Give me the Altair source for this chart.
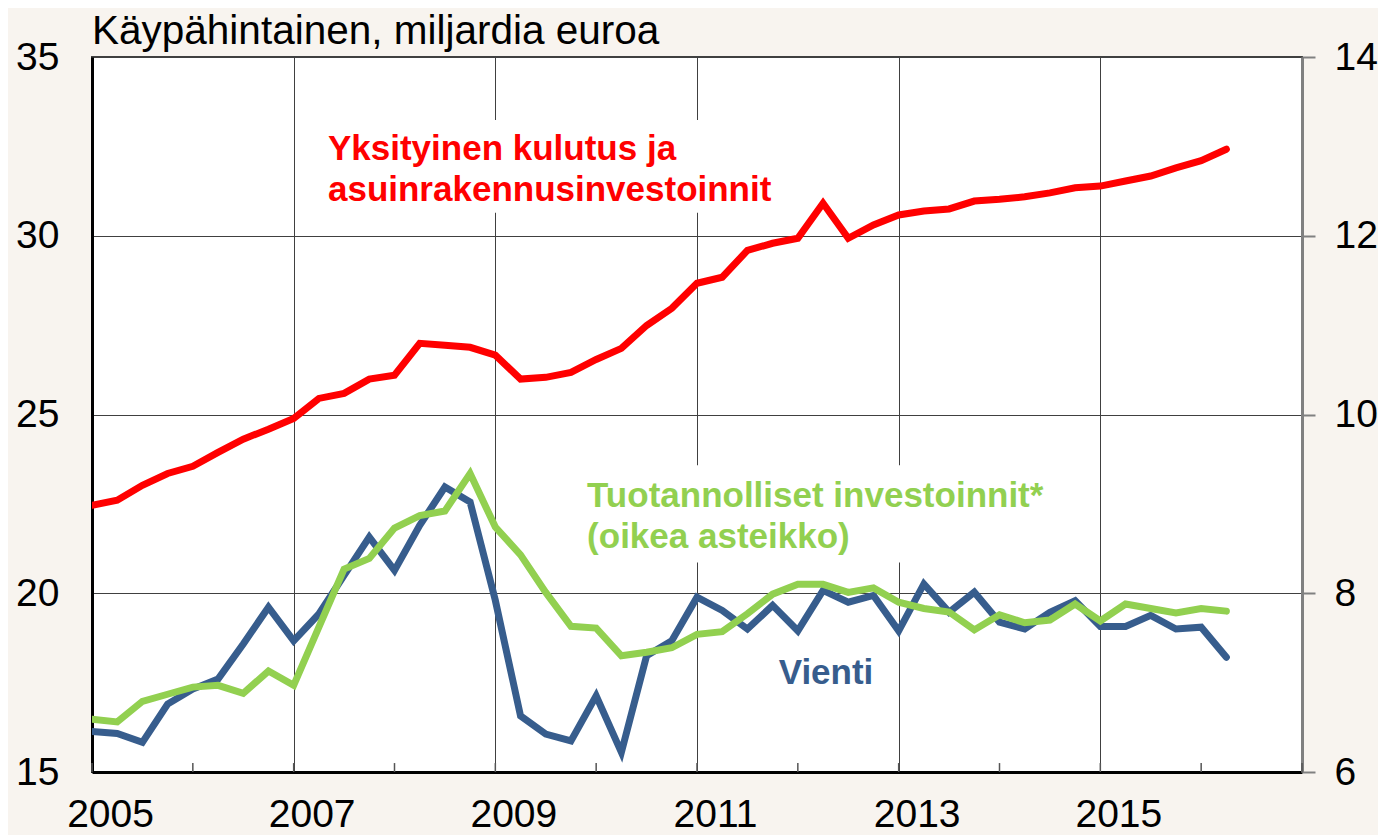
import altair as alt
import pandas as pd

FONT = "Liberation Sans"

# Quarterly observations 2005Q1 .. 2016Q2
quarters = [f"{y}Q{q}" for y in range(2005, 2017) for q in range(1, 5)][:46]

kulutus = [22.46, 22.60, 23.02, 23.35, 23.55, 23.94, 24.31, 24.59, 24.89, 25.45,
           25.59, 25.99, 26.10, 26.99, 26.94, 26.88, 26.66, 25.99, 26.04, 26.18,
           26.54, 26.85, 27.49, 27.97, 28.67, 28.84, 29.59, 29.79, 29.93, 30.91,
           29.93, 30.30, 30.58, 30.69, 30.75, 30.97, 31.02, 31.09, 31.20, 31.34,
           31.39, 31.53, 31.67, 31.90, 32.10, 32.42]

vienti = [16.13, 16.08, 15.83, 16.90, 17.32, 17.60, 18.58, 19.61, 18.67, 19.42,
          20.50, 21.57, 20.64, 21.90, 22.97, 22.55, 19.80, 16.57, 16.06, 15.87,
          17.13, 15.55, 18.25, 18.67, 19.89, 19.52, 19.00, 19.66, 18.95, 20.08,
          19.75, 19.94, 18.95, 20.26, 19.47, 20.03, 19.19, 19.00, 19.47, 19.79,
          19.07, 19.07, 19.38, 19.00, 19.05, 18.21]

investoinnit = [6.59, 6.56, 6.79, 6.87, 6.95, 6.97, 6.88, 7.13, 6.97, 7.62,
                8.27, 8.39, 8.73, 8.87, 8.92, 9.34, 8.74, 8.43, 8.01, 7.63,
                7.61, 7.30, 7.34, 7.39, 7.54, 7.57, 7.77, 7.99, 8.10, 8.10,
                8.01, 8.06, 7.90, 7.83, 7.79, 7.59, 7.76, 7.67, 7.70, 7.88,
                7.69, 7.88, 7.83, 7.78, 7.83, 7.80]

grid_years = [2005, 2007, 2009, 2011, 2013, 2015, 2017]
tick_years = list(range(2005, 2018))
left_ticks = [15, 20, 25, 30, 35]
right_ticks = [6, 8, 10, 12, 14]

title_text = ["Käypähintainen, miljardia euroa"]
labels = ["Yksityinen kulutus ja\nasuinrakennusinvestoinnit",
          "Tuotannolliset investoinnit*\n(oikea asteikko)",
          "Vienti"]
label_x = [2007.34, 2009.91, 2011.81]
label_y = [32.12, 22.40, 17.47]
label_colors = ["#FF0000", "#92D050", "#375D8D"]

# white boxes behind the annotation texts (left-scale units)
box_x = [2007.16, 2009.79]
box_x2 = [2011.92, 2014.75]
box_y = [33.24, 23.58]
box_y2 = [30.64, 20.86]

xpos = [int(s[:4]) + (int(s[-1]) - 1) / 4 for s in quarters]

df_red = pd.DataFrame({"x": xpos, "y": kulutus})
df_blue = pd.DataFrame({"x": xpos, "y": vienti})
df_green = pd.DataFrame({"x": xpos, "y": investoinnit})
df_ticks = pd.DataFrame({"x": tick_years, "y": [15] * len(tick_years), "y2": [15.25] * len(tick_years)})
df_text = pd.DataFrame({"x": label_x, "y": label_y, "t": labels, "c": label_colors})
df_box = pd.DataFrame({"x": box_x, "x2": box_x2, "y": box_y, "y2": box_y2})
df_title = pd.DataFrame({"t": title_text})

x_enc = alt.X(
    "x:Q",
    scale=alt.Scale(domain=[2005, 2017], nice=False, zero=False),
    axis=alt.Axis(
        values=grid_years, format="d",
        labelExpr="datum.value >= 2017 ? '' : datum.label",
        grid=True, gridColor="#404040", gridWidth=1,
        ticks=False, tickSize=0,
        domainColor="black", domainWidth=3,
        labelFontSize=39, labelFont=FONT, labelColor="black",
        labelOffset=18, labelPadding=23, labelFlush=False, labelOverlap=False,
        title=None,
    ),
)

yl_enc = alt.Y(
    "y:Q",
    scale=alt.Scale(domain=[15, 35], nice=False, zero=False),
    axis=alt.Axis(
        values=left_ticks, grid=True, gridColor="#404040", gridWidth=1,
        ticks=False, tickSize=0,
        domainColor="black", domainWidth=3,
        labelFontSize=39, labelFont=FONT, labelColor="black",
        labelPadding=33, labelFlush=False, labelOverlap=False,
        title=None,
    ),
)

yr_enc = alt.Y(
    "y:Q",
    scale=alt.Scale(domain=[6, 14], nice=False, zero=False),
    axis=alt.Axis(
        orient="right", values=right_ticks, grid=False,
        ticks=True, tickSize=13, tickWidth=2, tickColor="#808080",
        domainColor="#808080", domainWidth=3,
        labelFontSize=39, labelFont=FONT, labelColor="black",
        labelPadding=19, labelAlign="left", labelFlush=False, labelOverlap=False,
        title=None,
    ),
)

boxes = alt.Chart(df_box).mark_rect(color="white").encode(
    x=x_enc, x2="x2:Q", y=yl_enc, y2="y2:Q"
)
ticks = alt.Chart(df_ticks).mark_rule(color="#555555", strokeWidth=1.5).encode(
    x=x_enc, y=yl_enc, y2="y2:Q"
)
blue = alt.Chart(df_blue).mark_line(color="#375D8D", strokeWidth=7, strokeCap="round", clip=True).encode(
    x=x_enc, y=yl_enc
)
red = alt.Chart(df_red).mark_line(color="#FF0000", strokeWidth=7, strokeCap="round", clip=True).encode(
    x=x_enc, y=yl_enc
)
texts = alt.Chart(df_text).mark_text(
    align="left", baseline="alphabetic", font=FONT, fontWeight="bold",
    fontSize=35, lineBreak="\n", lineHeight=41,
).encode(x=x_enc, y=yl_enc, text="t:N", color=alt.Color("c:N", scale=None))

title = alt.Chart(df_title).mark_text(
    align="left", baseline="alphabetic", font=FONT, fontSize=40.5, color="black",
).encode(x=alt.value(0), y=alt.value(-13), text="t:N")

left = alt.layer(boxes, ticks, blue, red, texts, title)

green = alt.Chart(df_green).mark_line(color="#92D050", strokeWidth=7, strokeCap="round", clip=True).encode(
    x=x_enc, y=yr_enc
)

chart = (
    alt.layer(left, green)
    .resolve_scale(y="independent")
    .properties(
        width=1210,
        height=715,
        padding={"left": 84, "top": 49, "right": 76, "bottom": 63},
        autosize=alt.AutoSizeParams(type="none"),
        background="#F8F4EF",
        view=alt.ViewBackground(fill="white", stroke="#404040", strokeWidth=2),
    )
    .configure(font=FONT)
)

chart.save("out.html", embed_options={"renderer": "svg", "actions": False})
